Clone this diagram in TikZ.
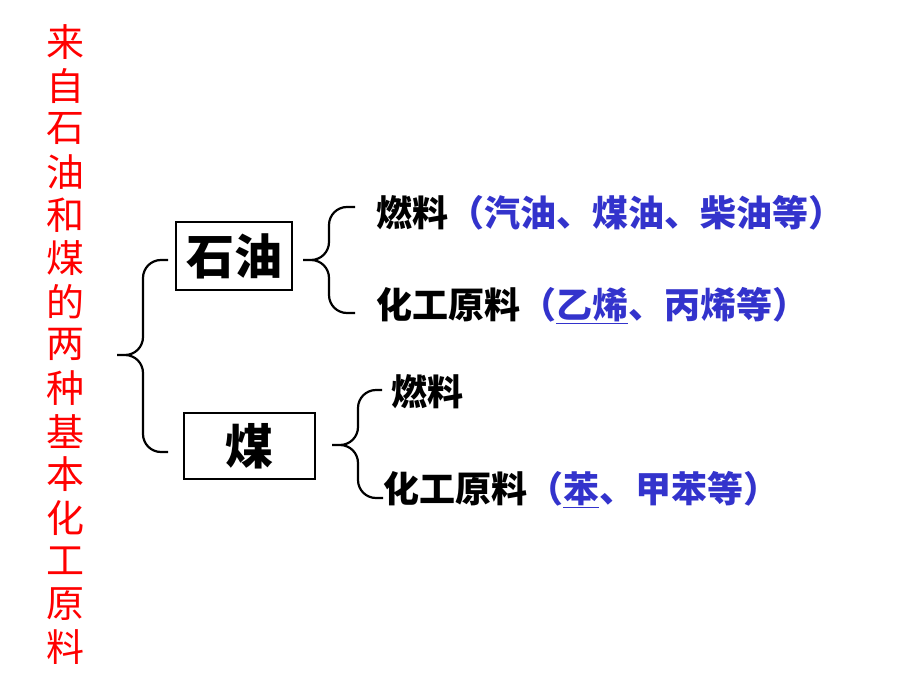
\documentclass[tikz,border=0pt]{standalone}
\usepackage{fontspec}
\setmainfont{Noto Sans CJK SC}
\definecolor{linkblue}{RGB}{51,51,204}
\tikzset{
  box/.style={draw, line width=2pt, inner sep=0pt, font=\fontsize{48}{52}\selectfont\bfseries},
  item/.style={anchor=west, inner sep=0pt, font=\fontsize{36}{40}\selectfont\bfseries},
  side/.style={text=red, inner sep=0pt, font=\fontsize{38}{40}\selectfont},
  brace/.style={line width=2.2pt, rounded corners=18pt},
}

\begin{document}
\begin{tikzpicture}[x=1pt, y=-1pt]
  \useasboundingbox (0,0) rectangle (920,690);

  % 竖排标题
  \foreach \ch [count=\i] in {来,自,石,油,和,煤,的,两,种,基,本,化,工,原,料} {
    \node[side] (side\i) at (65.5, {42.5+43.2*(\i-1)}) {\ch};
  }

  % 石油和煤
  \node[box, minimum width=116pt, minimum height=68pt] (shiyou) at (234,256) {石油};
  \node[box, minimum width=131pt, minimum height=66pt] (mei) at (249,446) {煤};

  % 产品
  \node[item] (syfuel) at (376,213) {燃料\textcolor{linkblue}{（汽油、煤油、柴油等）}};
  \node[item] (sychem) at (376,306) {化工原料\textcolor{linkblue}{（\underline{乙烯}、丙烯等）}};
  \node[item] (meifuel) at (391,392) {燃料};
  \node[item] (meichem) at (383,490) {化工原料\textcolor{linkblue}{（\underline{苯}、甲苯等）}};

  % 括号端点
  \coordinate (root) at (117,355);
  \coordinate (rootup) at (168,260);
  \coordinate (rootdown) at (168,452);
  \coordinate (sytip) at (303,260);
  \coordinate (syup) at (355,207);
  \coordinate (sydown) at (355,313);
  \coordinate (meitip) at (332,445);
  \coordinate (meiup) at (382,390);
  \coordinate (meidown) at (383,498);

  % 括号
  \foreach \tip/\up/\down in {root/rootup/rootdown, sytip/syup/sydown, meitip/meiup/meidown} {
    \draw[brace] (\up) -| ([xshift=26pt]\tip) -- (\tip)
                 (\tip) -- ([xshift=26pt]\tip) |- (\down);
  }
\end{tikzpicture}
\end{document}
